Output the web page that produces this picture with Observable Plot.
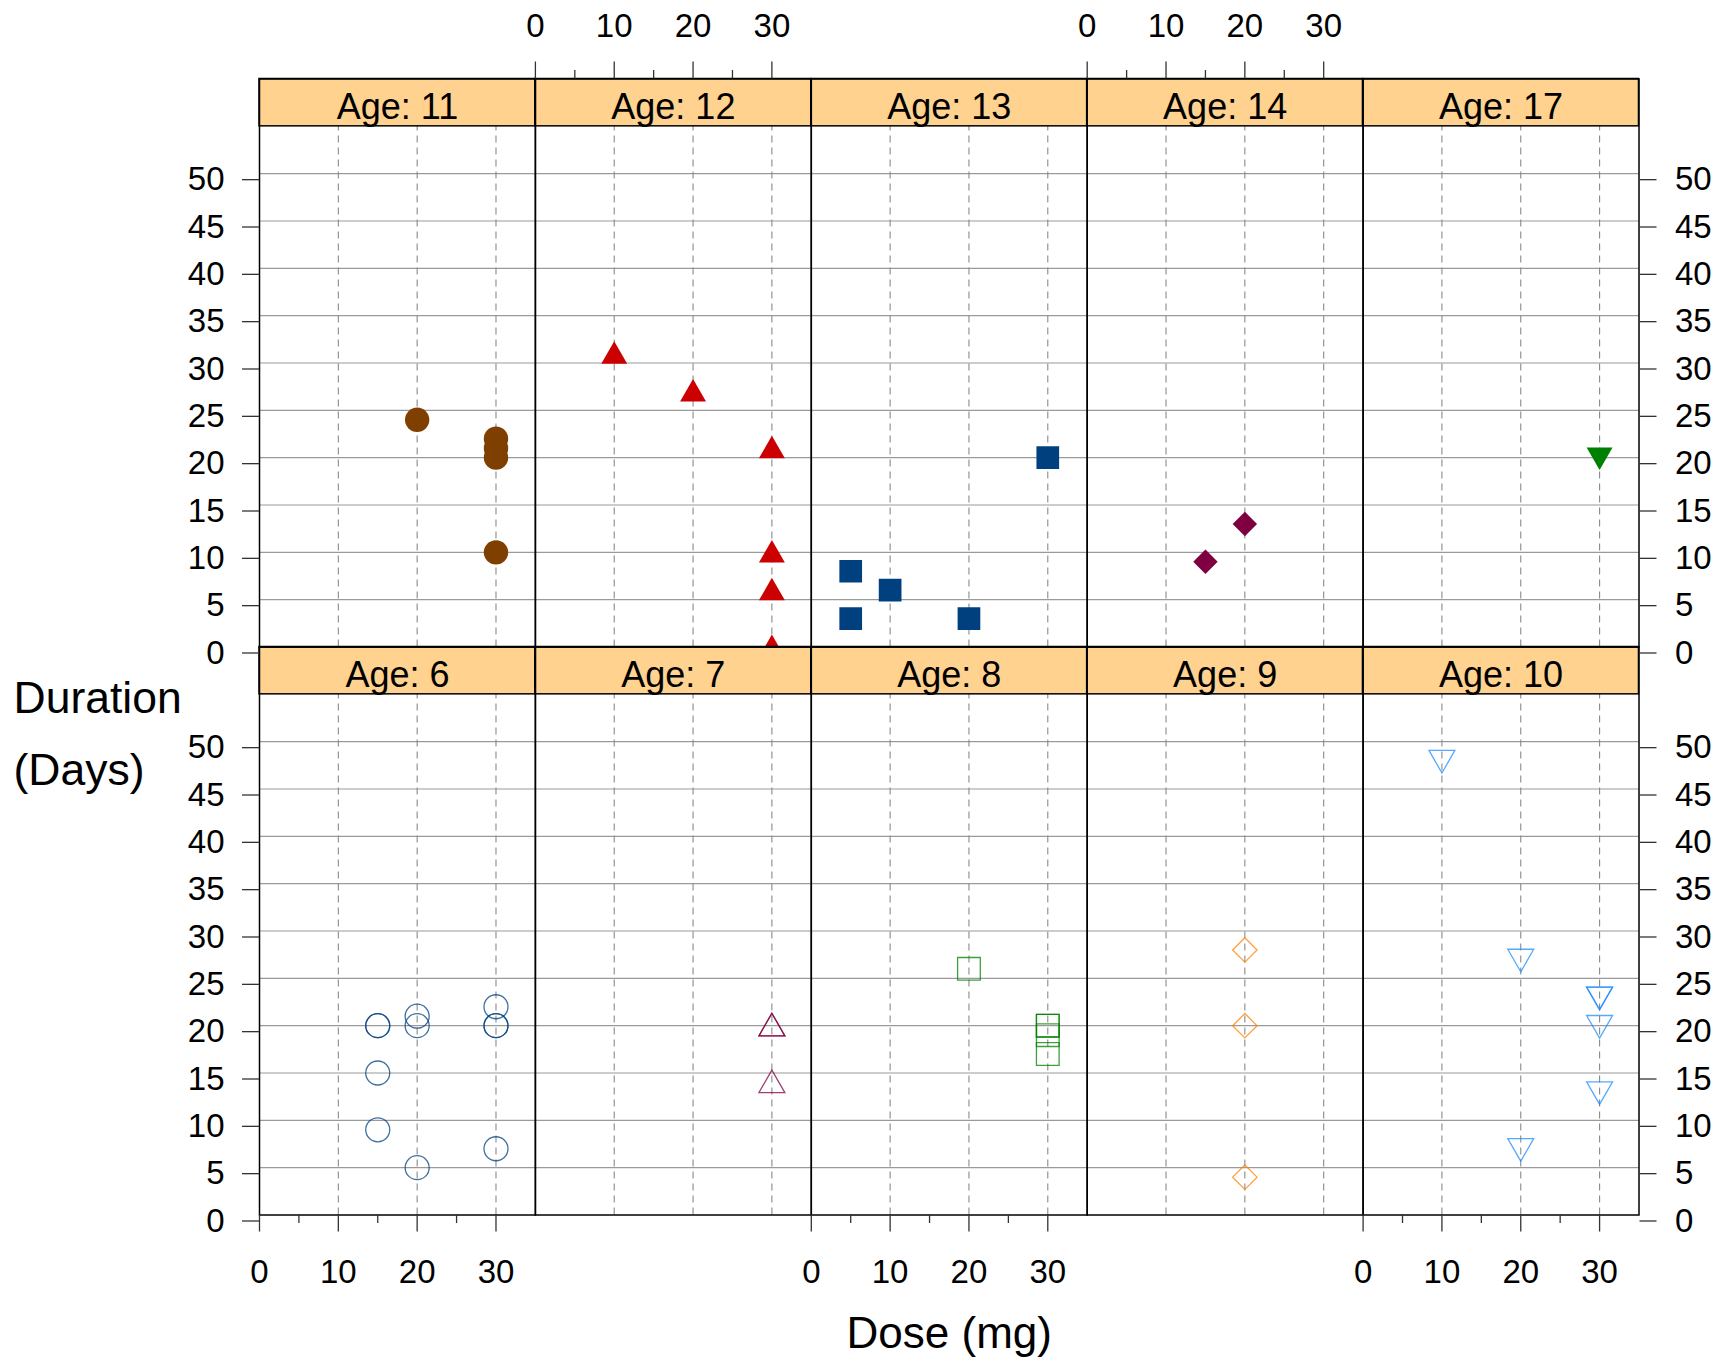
<!DOCTYPE html>
<html>
<head>
<meta charset="utf-8">
<script src="https://cdn.jsdelivr.net/npm/d3@7"></script>
<script src="https://cdn.jsdelivr.net/npm/@observablehq/plot@0.6"></script>
<style>
  body { margin: 0; background: #fff; }
  svg { display: block; }
</style>
</head>
<body>
<div id="chart"></div>
<script>
// Treatment duration (days) against dose (mg), one panel per age.
// Panels are laid out lattice-style: first panel at the bottom left.
const panelAges = [6, 7, 8, 9, 10, 11, 12, 13, 14, 17];

const doseAge6  = [15, 15, 15, 15, 20, 20, 20, 30, 30, 30, 30];
const daysAge6  = [20, 20, 15, 9, 21, 20, 5, 22, 20, 20, 7];
const doseAge7  = [30, 30, 30];
const daysAge7  = [20, 20, 14];
const doseAge8  = [20, 30, 30, 30, 30];
const daysAge8  = [26, 20, 20, 19, 17];
const doseAge9  = [20, 20, 20];
const daysAge9  = [28, 20, 4];
const doseAge10 = [10, 20, 20, 30, 30, 30, 30];
const daysAge10 = [48, 27, 7, 23, 23, 20, 13];
const doseAge11 = [20, 30, 30, 30, 30];
const daysAge11 = [24, 22, 21, 20, 10];
const doseAge12 = [10, 20, 30, 30, 30, 30];
const daysAge12 = [31, 27, 21, 10, 6, 0];
const doseAge13 = [5, 5, 10, 20, 30];
const daysAge13 = [8, 3, 6, 3, 20];
const doseAge14 = [15, 20];
const daysAge14 = [9, 13];
const doseAge17 = [30];
const daysAge17 = [20];

const doseByAge = [doseAge6, doseAge7, doseAge8, doseAge9, doseAge10, doseAge11, doseAge12, doseAge13, doseAge14, doseAge17];
const daysByAge = [daysAge6, daysAge7, daysAge8, daysAge9, daysAge10, daysAge11, daysAge12, daysAge13, daysAge14, daysAge17];

const yTicks = [0, 5, 10, 15, 20, 25, 30, 35, 40, 45, 50];
const xMajorTicks = [0, 10, 20, 30];
const xMinorTicks = [5, 15, 25];
const xGridValues = [10, 20, 30];

// Which panel columns carry the alternating x axes
const bottomAxisCols = [0, 2, 4];
const topAxisCols = [1, 3];

// Symbols drawn as R/lattice triangles
const triangleUp = {
  draw(context, size) {
    const r = Math.sqrt(size / Math.PI);
    const w = 1.08 * r, h = 1.88 * r;
    context.moveTo(0, -0.55 * h);
    context.lineTo(w, 0.45 * h);
    context.lineTo(-w, 0.45 * h);
    context.closePath();
  }
};
const triangleDown = {
  draw(context, size) {
    const r = Math.sqrt(size / Math.PI);
    const w = 1.08 * r, h = 1.88 * r;
    context.moveTo(0, 0.55 * h);
    context.lineTo(w, -0.45 * h);
    context.lineTo(-w, -0.45 * h);
    context.closePath();
  }
};

// Per-age symbol styling
const ageStyles = new Map([
  [6,  {symbol: "circle",   color: "#00407F", filled: false, r: 12}],
  [7,  {symbol: triangleUp, color: "#7F0040", filled: false, r: 12}],
  [8,  {symbol: "square",   color: "#008000", filled: false, r: 12.8}],
  [9,  {symbol: "diamond2", color: "#FF7F00", filled: false, r: 11}],
  [10, {symbol: triangleDown, color: "#1E8CFF", filled: false, r: 12}],
  [11, {symbol: "circle",   color: "#7F3F00", filled: true,  r: 12.2}],
  [12, {symbol: triangleUp, color: "#CC0000", filled: true,  r: 12}],
  [13, {symbol: "square",   color: "#00407F", filled: true,  r: 12.8}],
  [14, {symbol: "diamond2", color: "#7F0040", filled: true,  r: 11}],
  [17, {symbol: triangleDown, color: "#008000", filled: true, r: 12}]
]);

// Layout constants
const width = 1730, height = 1360;
const marginTop = 78.5, marginBottom = 145.5, marginLeft = 259, marginRight = 91.5;
const rowHeight = (height - marginTop - marginBottom) / 2;
const yMax = 60;            // 0–55 data area plus the strip on top
const stripBottom = 55;
const unitsPerPx = yMax / rowHeight;
const majorTick = 17, minorTick = 8.5;

const panels = panelAges.map((age, i) => ({
  age,
  col: i % 5,
  row: i < 5 ? "bottom" : "top"
}));

const points = panels.flatMap((p, i) =>
  doseByAge[i].map((dose, j) => ({age: p.age, col: p.col, row: p.row, dose, days: daysByAge[i][j]}))
);

const tickRows = (cols, row, values) => cols.flatMap(col => values.map(v => ({col, row, v})));
const bottomMajor = tickRows(bottomAxisCols, "bottom", xMajorTicks);
const bottomMinor = tickRows(bottomAxisCols, "bottom", xMinorTicks);
const topMajor = tickRows(topAxisCols, "top", xMajorTicks);
const topMinor = tickRows(topAxisCols, "top", xMinorTicks);

const font = "'Liberation Sans', Arial, Helvetica, sans-serif";

const pointMarks = panelAges.map(age => {
  const st = ageStyles.get(age);
  return Plot.dot(points.filter(d => d.age === age), {
    x: "dose",
    y: "days",
    fx: "col",
    fy: "row",
    symbol: st.symbol,
    r: st.r,
    fill: st.filled ? st.color : "none",
    stroke: st.filled ? "none" : st.color,
    strokeWidth: 1.3,
    strokeOpacity: 0.75,
    clip: true
  });
});

const chart = Plot.plot({
  width,
  height,
  marginTop,
  marginBottom,
  marginLeft,
  marginRight,
  style: {fontFamily: font, background: "#fff", color: "#000"},
  fx: {domain: [0, 1, 2, 3, 4], padding: 0, axis: null, round: false},
  fy: {domain: ["top", "bottom"], padding: 0, axis: null, round: false},
  x: {domain: [0, 35], axis: null},
  y: {domain: [0, yMax], axis: null},
  marks: [
    // grid
    Plot.ruleY(yTicks.filter(v => v > 0), {stroke: "#9a9a9a", strokeWidth: 1.2}),
    Plot.ruleX(xGridValues, {y1: 0, y2: stripBottom, stroke: "#8a8a8a", strokeWidth: 1.1, strokeDasharray: "7,5"}),

    // observations
    ...pointMarks,

    // strips
    Plot.rect(panels, {x1: 0, x2: 35, y1: stripBottom, y2: yMax, fx: "col", fy: "row", fill: "#FFD28F", stroke: "#000", strokeWidth: 1.5}),
    Plot.text(panels, {x: 17.5, y: (stripBottom + yMax) / 2, fx: "col", fy: "row", text: d => `Age: ${d.age}`, fontSize: 36, dy: 4.6, fill: "#000"}),

    // panel borders
    Plot.frame({stroke: "#000", strokeWidth: 1.5}),

    // y axes on both sides
    Plot.axisY({anchor: "left", ticks: yTicks, tickSize: majorTick, tickPadding: 18, fontSize: 33, dy: 6, label: null, stroke: "#333", strokeWidth: 1.3}),
    Plot.axisY({anchor: "right", ticks: yTicks, tickSize: majorTick, tickPadding: 19, fontSize: 33, dy: 6, label: null, stroke: "#333", strokeWidth: 1.3}),

    // alternating x axes: bottom ticks and labels
    Plot.ruleX(bottomMajor, {x: "v", fx: "col", fy: "row", y1: 0, y2: -majorTick * unitsPerPx, stroke: "#333", strokeWidth: 1.3}),
    Plot.ruleX(bottomMinor, {x: "v", fx: "col", fy: "row", y1: 0, y2: -minorTick * unitsPerPx, stroke: "#333", strokeWidth: 1.3}),
    Plot.text(bottomMajor, {x: "v", y: 0, fx: "col", fy: "row", text: d => `${d.v}`, fontSize: 33, dy: 57.6, fill: "#000"}),

    // top ticks and labels
    Plot.ruleX(topMajor, {x: "v", fx: "col", fy: "row", y1: yMax, y2: yMax + majorTick * unitsPerPx, stroke: "#333", strokeWidth: 1.3}),
    Plot.ruleX(topMinor, {x: "v", fx: "col", fy: "row", y1: yMax, y2: yMax + minorTick * unitsPerPx, stroke: "#333", strokeWidth: 1.3}),
    Plot.text(topMajor, {x: "v", y: yMax, fx: "col", fy: "row", text: d => `${d.v}`, fontSize: 33, dy: -52.4, fill: "#000"}),

    // axis titles
    Plot.text([{col: 2, row: "bottom"}], {
      fx: "col", fy: "row", frameAnchor: "bottom", lineAnchor: "middle",
      text: () => "Dose (mg)", fontSize: 44, dy: 119, fill: "#000"
    }),
    Plot.text([{col: 0, row: "bottom"}], {
      fx: "col", fy: "row", frameAnchor: "top-left", textAnchor: "start", lineAnchor: "top",
      text: () => "Duration\n(Days)", lineHeight: 1.62, fontSize: 44.5, dx: -246, dy: 15, fill: "#000"
    })
  ]
});

document.getElementById("chart").appendChild(chart);
</script>
</body>
</html>
